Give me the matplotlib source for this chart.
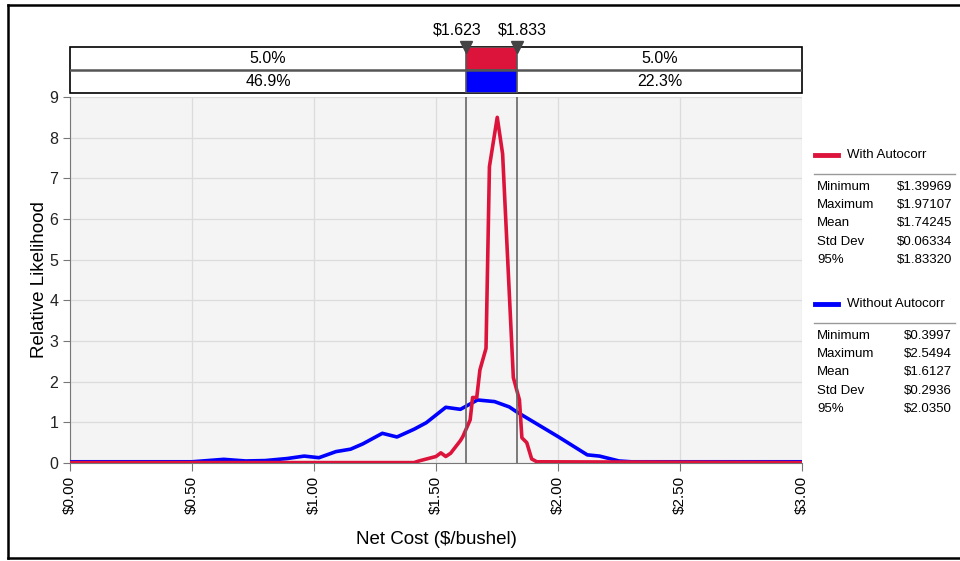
import numpy as np
import matplotlib.pyplot as plt
from matplotlib.lines import Line2D

plt.rcParams['font.family'] = ['Liberation Sans', 'DejaVu Sans']

# distribution curves
blue_x = [0.00, 0.50, 0.63, 0.72, 0.80, 0.89, 0.96, 1.02, 1.09, 1.15, 1.20, 1.28, 1.34,
          1.41, 1.46, 1.54, 1.60, 1.67, 1.74, 1.80, 1.83, 2.00, 2.12, 2.17, 2.25, 2.30, 3.00]
blue_y = [0.03, 0.03, 0.09, 0.05, 0.06, 0.11, 0.17, 0.13, 0.28, 0.34, 0.47, 0.73, 0.64,
          0.83, 0.99, 1.37, 1.32, 1.55, 1.51, 1.38, 1.26, 0.65, 0.20, 0.17, 0.05, 0.03, 0.03]

red_x = [0.00, 1.41, 1.43, 1.50, 1.52, 1.54, 1.56, 1.60, 1.61, 1.64, 1.65, 1.667, 1.68,
         1.705, 1.719, 1.751, 1.773, 1.817, 1.842, 1.852, 1.872, 1.892, 1.913, 3.00]
red_y = [0.01, 0.01, 0.05, 0.16, 0.25, 0.16, 0.24, 0.55, 0.65, 1.06, 1.61, 1.61, 2.29,
         2.82, 7.29, 8.50, 7.60, 2.10, 1.55, 0.62, 0.50, 0.10, 0.03, 0.01]

# delimiters and band percentages
lo, hi = 1.623, 1.833
red_pcts = ['5.0%', '5.0%']
blue_pcts = ['46.9%', '22.3%']

xticks = [0, 0.5, 1, 1.5, 2, 2.5, 3]
xtick_labels = ['$0.00', '$0.50', '$1.00', '$1.50', '$2.00', '$2.50', '$3.00']

stat_names = ['Minimum', 'Maximum', 'Mean', 'Std Dev', '95%']
with_stats = ['$1.39969', '$1.97107', '$1.74245', '$0.06334', '$1.83320']
without_stats = ['$0.3997', '$2.5494', '$1.6127', '$0.2936', '$2.0350']

RED = '#DC143C'
BLUE = '#0000FF'
W, H = 960, 561

def fx(x): return x / W
def fy(y): return 1 - y / H

fig = plt.figure(figsize=(9.6, 5.61), dpi=100)

# main plot
ax = fig.add_axes([fx(70), fy(463), (802-70)/W, (463-97)/H])
ax.set_facecolor('#f4f4f4')
ax.plot(blue_x, blue_y, color=BLUE, lw=2.6, zorder=3)
ax.plot(red_x, red_y, color=RED, lw=2.6, zorder=4)
ax.axvline(lo, color='#666666', lw=1.2, zorder=5)
ax.axvline(hi, color='#666666', lw=1.2, zorder=5)
ax.set_xlim(0, 3)
ax.set_ylim(0, 9)
ax.set_xticks(xticks)
ax.set_xticklabels(xtick_labels, rotation=90, fontsize=11)
ax.set_yticks(range(10))
ax.tick_params(axis='y', labelsize=11.5, length=5, color='#777777', colors='#222222')
ax.tick_params(axis='x', length=6, color='#777777')
ax.grid(True, color='#dcdcdc', lw=0.9)
ax.set_axisbelow(True)
for s in ['top', 'right']:
    ax.spines[s].set_visible(False)
for s in ['left', 'bottom']:
    ax.spines[s].set_color('#777777')
ax.set_ylabel('Relative Likelihood', fontsize=13.5, labelpad=1)
ax.set_xlabel('Net Cost ($/bushel)', fontsize=13.5, labelpad=12)

# delimiter bar on top
bar = fig.add_axes([fx(70), fy(93), (802-70)/W, (93-47)/H])
bar.set_xlim(0, 3)
bar.set_ylim(0, 2)
bar.axis('off')
bar.add_patch(plt.Rectangle((0, 0), 3, 2, fill=False, ec='black', lw=1.2, clip_on=False))
bar.plot([0, 3], [1, 1], color='#555555', lw=1.8)
bar.barh(1.5, hi-lo, left=lo, height=1, color=RED, ec='#555555', lw=1.2)
bar.barh(0.5, hi-lo, left=lo, height=1, color=BLUE, ec='#555555', lw=1.2)
bar.text(lo/2, 1.5, red_pcts[0], ha='center', va='center', fontsize=11.5)
bar.text((hi+3)/2, 1.5, red_pcts[1], ha='center', va='center', fontsize=11.5)
bar.text(lo/2, 0.5, blue_pcts[0], ha='center', va='center', fontsize=11.5)
bar.text((hi+3)/2, 0.5, blue_pcts[1], ha='center', va='center', fontsize=11.5)
bar.plot([lo, hi], [2.02, 2.02], 'v', color='#444444', ms=9, clip_on=False)
fig.text(fx(457), fy(30), '$%.3f' % lo, ha='center', va='center', fontsize=11.5)
fig.text(fx(522), fy(30), '$%.3f' % hi, ha='center', va='center', fontsize=11.5)

# legend panel with statistics
def stats_block(y0, color, name, values):
    fig.add_artist(Line2D([fx(815), fx(838)], [fy(y0), fy(y0)], color=color, lw=3.5))
    fig.text(fx(847), fy(y0), name, va='center', fontsize=9.5)
    fig.add_artist(Line2D([fx(814), fx(955)], [fy(y0+18.5), fy(y0+18.5)], color='#999999', lw=1))
    for i, (n, v) in enumerate(zip(stat_names, values)):
        yy = y0 + 32 + 18.2*i
        fig.text(fx(817), fy(yy), n, va='center', fontsize=9.5)
        fig.text(fx(952), fy(yy), v, va='center', ha='right', fontsize=9.5)

stats_block(155, RED, 'With Autocorr', with_stats)
stats_block(304, BLUE, 'Without Autocorr', without_stats)

# outer frame (no right edge visible)
fig.add_artist(Line2D([fx(8), fx(8)], [fy(5), fy(558)], color='black', lw=1.8))
fig.add_artist(Line2D([fx(8), fx(960)], [fy(5), fy(5)], color='black', lw=1.8))
fig.add_artist(Line2D([fx(8), fx(960)], [fy(558), fy(558)], color='black', lw=1.8))

plt.savefig('out.png', dpi=100)
plt.close('all')
